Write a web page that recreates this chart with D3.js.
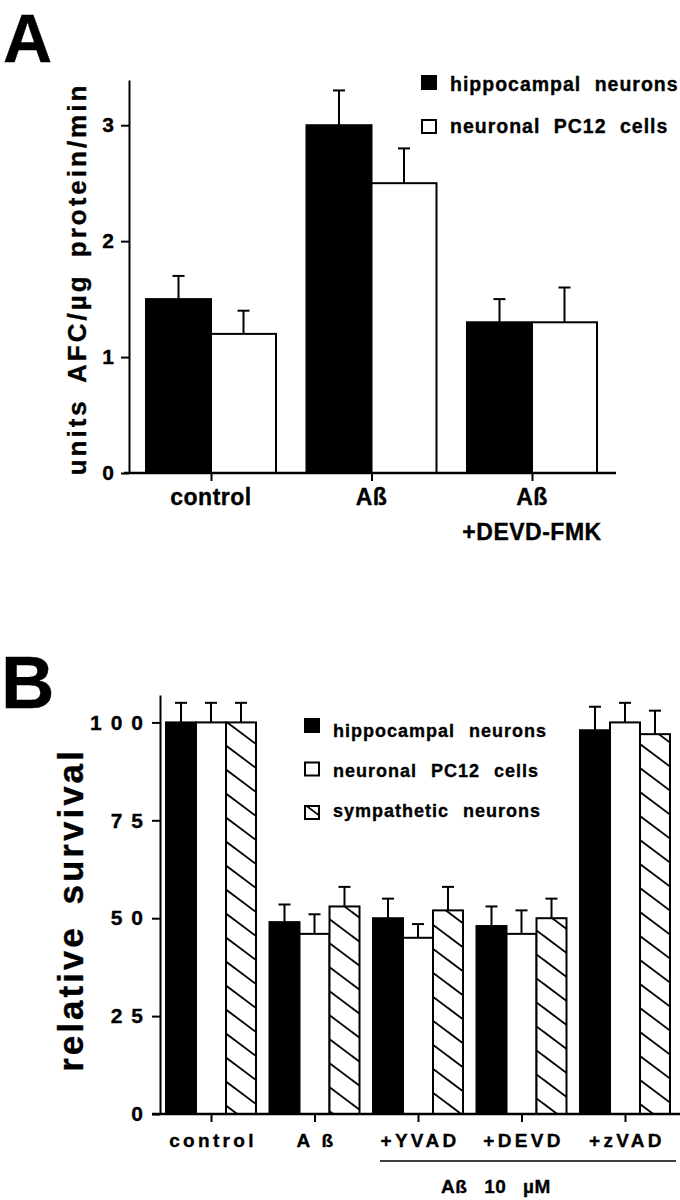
<!DOCTYPE html>
<html>
<head>
<meta charset="utf-8">
<script src="https://cdn.jsdelivr.net/npm/d3@7/dist/d3.min.js"></script>
<style>
  body { margin: 0; background: #fff; }
  svg { display: block; }
  text { font-family: "Liberation Sans", Arial, Helvetica, sans-serif; font-weight: bold; fill: #000; stroke: #000; stroke-width: 0.35px; }
</style>
</head>
<body>
<script>
// ---------- Panel A data ----------
const catsA = ["control", "Ab", "Ab+DEVD"];
const labelsA = [["control"], ["Aß"], ["Aß", "+DEVD-FMK"]];
const seriesA = ["hippocampal neurons", "neuronal PC12 cells"];
const hippoA = [1.5, 3.0, 1.3];
const hippoAErr = [0.2, 0.3, 0.2];
const pc12A = [1.2, 2.5, 1.3];
const pc12AErr = [0.2, 0.3, 0.3];
const ticksA = [0, 1, 2, 3];
const yLabelA = "units AFC/µg protein/min";

// ---------- Panel B data ----------
const catsB = ["control", "A ß", "+YVAD", "+DEVD", "+zVAD"];
const seriesB = ["hippocampal neurons", "neuronal PC12 cells", "sympathetic neurons"];
const hippoB = [100, 49, 50, 48, 98];
const hippoBErr = [5, 4.5, 5, 5, 6];
const pc12B = [100, 46, 45, 46, 100];
const pc12BErr = [5, 5, 3.5, 6, 5];
const sympB = [100, 53, 52, 50, 97];
const sympBErr = [5, 5, 6, 5, 6];
const ticksB = [0, 25, 50, 75, 100];
const yLabelB = "relative survival";
const bracketLabelB = "Aß 10 µM";

const svg = d3.select("body").append("svg").attr("width", 680).attr("height", 1200);

// hatch pattern
const defs = svg.append("defs");
const pW = 32, pH = 24;
const pat = defs.append("pattern").attr("id", "hatch")
  .attr("patternUnits", "userSpaceOnUse").attr("width", pW).attr("height", pH);
pat.append("rect").attr("width", pW).attr("height", pH).attr("fill", "#fff");
pat.append("path")
  .attr("d", `M${-pW},${-pH}L${2*pW},${2*pH}M0,${-pH}L${2*pW},${pH}M${-pW},0L${pW},${2*pH}`)
  .attr("stroke", "#000").attr("stroke-width", 1.8);

const fills = ["#000", "#fff", "url(#hatch)"];

function drawErr(g, x, yTop, yErr) {
  g.append("line").attr("x1", x).attr("x2", x).attr("y1", yTop).attr("y2", yErr)
    .attr("stroke", "#000").attr("stroke-width", 2);
  g.append("line").attr("x1", x - 6).attr("x2", x + 6).attr("y1", yErr).attr("y2", yErr)
    .attr("stroke", "#000").attr("stroke-width", 2);
}

// ================= PANEL A =================
svg.append("text").attr("x", 3).attr("y", 62).attr("font-size", 68).text("A");

const yA = d3.scaleLinear().domain([0, 3.39]).range([473, 80]);
const xA = d3.scalePoint().domain(catsA).range([211, 532]);
const inA = d3.scaleBand().domain(seriesA).range([-65, 65]);
const dataA = [[hippoA, hippoAErr], [pc12A, pc12AErr]];

const gA = svg.append("g");
catsA.forEach((c, i) => {
  seriesA.forEach((s, j) => {
    const v = dataA[j][0][i], e = dataA[j][1][i];
    const x0 = xA(c) + inA(s);
    drawErr(gA, x0 + inA.bandwidth() / 2, yA(v), yA(v + e));
  });
  seriesA.forEach((s, j) => {
    const v = dataA[j][0][i];
    gA.append("rect").attr("x", xA(c) + inA(s)).attr("y", yA(v))
      .attr("width", inA.bandwidth()).attr("height", yA(0) - yA(v))
      .attr("fill", fills[j]).attr("stroke", "#000").attr("stroke-width", 2);
  });
});

// y axis A
const axA = svg.append("g").attr("transform", "translate(129,0)")
  .call(d3.axisLeft(yA).tickValues(ticksA).tickSize(8).tickSizeOuter(0).tickPadding(7).tickFormat(d3.format("d")));
axA.select(".domain").attr("stroke-width", 2);
axA.selectAll(".tick line").attr("stroke-width", 2);
axA.selectAll(".tick text").attr("font-size", 21).attr("font-family", null);
// x axis A
const axXA = svg.append("g").attr("transform", "translate(0,473)")
  .call(d3.axisBottom(xA).tickSize(8).tickSizeOuter(0).tickFormat(""));
axXA.select(".domain").remove();
axXA.selectAll(".tick line").attr("stroke-width", 2);
svg.append("line").attr("x1", 124).attr("x2", 616).attr("y1", 473).attr("y2", 473)
  .attr("stroke", "#000").attr("stroke-width", 2.5);

catsA.forEach((c, i) => {
  labelsA[i].forEach((l, k) => {
    svg.append("text").attr("x", xA(c)).attr("y", 505 + k * 35)
      .attr("text-anchor", "middle").attr("font-size", 23).attr("letter-spacing", 0.5).text(l);
  });
});

svg.append("text").attr("transform", "translate(86,279) rotate(-90)")
  .attr("text-anchor", "middle").attr("font-size", 26).attr("letter-spacing", 3)
  .attr("word-spacing", 6).text(yLabelA);

// legend A
seriesA.forEach((s, j) => {
  svg.append("rect").attr("x", 422).attr("y", 76 + j * 44).attr("width", 14).attr("height", 13)
    .attr("fill", fills[j]).attr("stroke", "#000").attr("stroke-width", 2);
  svg.append("text").attr("x", 450).attr("y", 91 + j * 42).attr("font-size", 19.5)
    .attr("letter-spacing", 1).attr("word-spacing", 7).text(s);
});

// ================= PANEL B =================
svg.append("text").attr("x", 1).attr("y", 708).attr("font-size", 74).text("B");

const yB = d3.scaleLinear().domain([0, 107]).range([1114, 695]);
const xB = d3.scalePoint().domain(catsB).range([211, 625]);
const inB = d3.scaleBand().domain(seriesB).range([-45, 45]);
const dataB = [[hippoB, hippoBErr], [pc12B, pc12BErr], [sympB, sympBErr]];

const gB = svg.append("g");
catsB.forEach((c, i) => {
  seriesB.forEach((s, j) => {
    const v = dataB[j][0][i], e = dataB[j][1][i];
    drawErr(gB, xB(c) + inB(s) + inB.bandwidth() / 2, yB(v), yB(v + e));
  });
  seriesB.forEach((s, j) => {
    const v = dataB[j][0][i];
    gB.append("rect").attr("x", xB(c) + inB(s)).attr("y", yB(v))
      .attr("width", inB.bandwidth()).attr("height", yB(0) - yB(v))
      .attr("fill", fills[j]).attr("stroke", "#000").attr("stroke-width", 2);
  });
});

const axB = svg.append("g").attr("transform", "translate(160,0)")
  .call(d3.axisLeft(yB).tickValues(ticksB).tickSize(8).tickSizeOuter(0).tickPadding(0).tickFormat(d3.format("d")));
axB.select(".domain").attr("stroke-width", 2);
axB.selectAll(".tick line").attr("stroke-width", 2);
axB.selectAll(".tick text").attr("font-size", 21).attr("font-family", null).attr("letter-spacing", 9);

const axXB = svg.append("g").attr("transform", "translate(0,1114)")
  .call(d3.axisBottom(xB).tickSize(8).tickSizeOuter(0).tickFormat(""));
axXB.select(".domain").remove();
axXB.selectAll(".tick line").attr("stroke-width", 2);
svg.append("line").attr("x1", 152).attr("x2", 680).attr("y1", 1114).attr("y2", 1114)
  .attr("stroke", "#000").attr("stroke-width", 2.5);

catsB.forEach(c => {
  svg.append("text").attr("x", xB(c) + 2).attr("y", 1147).attr("text-anchor", "middle")
    .attr("font-size", 19).attr("letter-spacing", 3.3).text(c);
});

// bracket under treatments
svg.append("line").attr("x1", 380).attr("x2", 676).attr("y1", 1161).attr("y2", 1161)
  .attr("stroke", "#000").attr("stroke-width", 1.5);
svg.append("text").attr("x", 496).attr("y", 1193).attr("text-anchor", "middle")
  .attr("font-size", 19).attr("letter-spacing", 0.5).attr("word-spacing", 11).text(bracketLabelB);

svg.append("text").attr("transform", "translate(83,910) rotate(-90)")
  .attr("text-anchor", "middle").attr("font-size", 35).attr("letter-spacing", 3)
  .attr("word-spacing", 8).text(yLabelB);

// legend B
seriesB.forEach((s, j) => {
  svg.append("rect").attr("x", 305).attr("y", 719 + j * 43.5).attr("width", 14).attr("height", 13)
    .attr("fill", fills[j]).attr("stroke", "#000").attr("stroke-width", 2);
  svg.append("text").attr("x", 333).attr("y", 737 + j * 40).attr("font-size", 18)
    .attr("letter-spacing", 1).attr("word-spacing", 8).text(s);
});
</script>
</body>
</html>
